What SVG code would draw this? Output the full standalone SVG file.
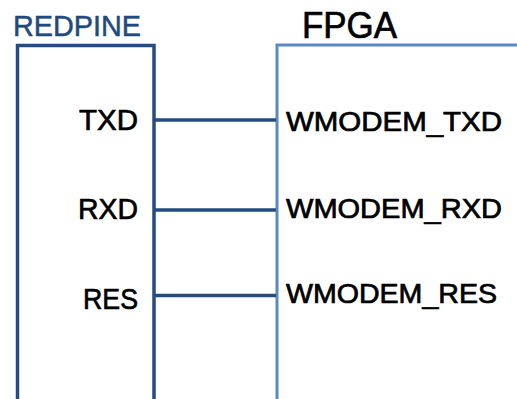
<svg xmlns="http://www.w3.org/2000/svg" width="517" height="399" viewBox="0 0 517 399">
<style>
.t{font-family:"Liberation Sans",Arial,sans-serif;fill:#000;stroke:#000;stroke-width:0.7}
.b{fill:#22497E;stroke:#22497E;stroke-width:0.5}
.dark{fill:none;stroke:#244C80;stroke-width:3.5}
.light{fill:none;stroke:#5A88C4;stroke-width:3}
.wire{stroke:#244C80;stroke-width:3.5;fill:none}
</style>
<rect width="517" height="399" fill="#fff"/>
<g id="redpine">
<rect class="dark" x="17.5" y="45.5" width="136.5" height="360"/>
<text class="t b" x="13" y="36" font-size="30" textLength="128" lengthAdjust="spacingAndGlyphs">REDPINE</text>
<text class="t" x="138" y="130" font-size="30" text-anchor="end" textLength="59" lengthAdjust="spacingAndGlyphs">TXD</text>
<text class="t" x="138" y="219" font-size="30" text-anchor="end" textLength="60" lengthAdjust="spacingAndGlyphs">RXD</text>
<text class="t" x="138" y="309" font-size="30" text-anchor="end" textLength="55" lengthAdjust="spacingAndGlyphs">RES</text>
</g>
<g id="fpga">
<rect class="light" x="277" y="45" width="260" height="360"/>
<text class="t" x="302" y="38" font-size="36" textLength="95" lengthAdjust="spacingAndGlyphs">FPGA</text>
<text class="t" x="286" y="131" font-size="27" textLength="216" lengthAdjust="spacingAndGlyphs">WMODEM_TXD</text>
<text class="t" x="286" y="218" font-size="27" textLength="216" lengthAdjust="spacingAndGlyphs">WMODEM_RXD</text>
<text class="t" x="286" y="303" font-size="27" textLength="211" lengthAdjust="spacingAndGlyphs">WMODEM_RES</text>
</g>
<g id="connectors">
<line class="wire" x1="154" y1="120" x2="276" y2="120"/>
<line class="wire" x1="154" y1="210" x2="276" y2="210"/>
<line class="wire" x1="154" y1="295.5" x2="276" y2="295.5"/>
</g>
</svg>
